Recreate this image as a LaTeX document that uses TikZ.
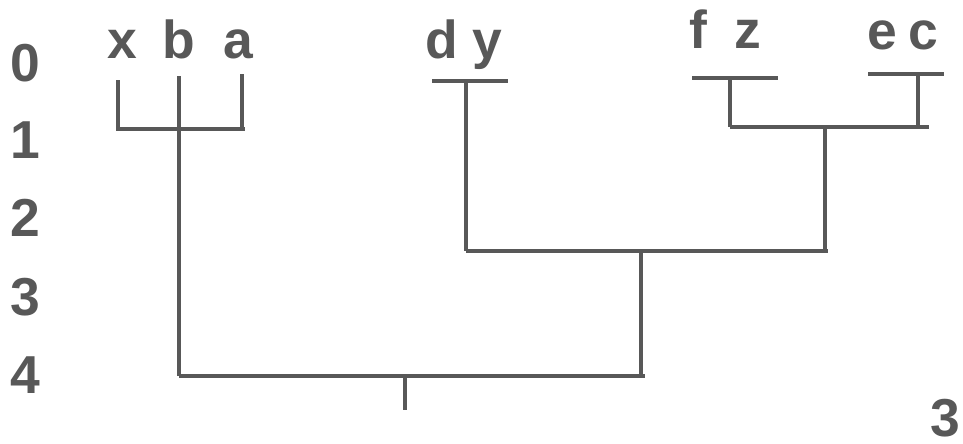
\documentclass[tikz,border=0pt]{standalone}
\usepackage{fontspec}
\setmainfont{Liberation Sans}
\usetikzlibrary{calc}
\definecolor{ink}{HTML}{585858}

\begin{document}
\begin{tikzpicture}[x=0.025cm,y=-0.025cm,
    every node/.style={text=ink,inner sep=0pt,font=\fontsize{38}{42}\selectfont\bfseries},
    branch/.style={draw=ink,line width=2.7pt}]
  \useasboundingbox (0,0) rectangle (963,443);

  %% level numbers down the left side
  \foreach \lvl/\ypos in {0/63,1/140,2/218,3/297,4/375}
  {
    \node (LV\lvl) at (25,\ypos) {\lvl};
  }

  %% leaf labels, grouped as they were merged
  \foreach \leaf/\xpos/\ypos in {x/122/58,b/179/58,a/238/58,d/442/58,y/487/58,f/698/48,z/748/48,e/882/49,c/923/49}
  {
    \node[anchor=base] (LF\leaf) at (\xpos,\ypos) {\leaf};
  }

  %% page number
  \node (PG) at (945,418) {3};

  %% points of the tree
  \coordinate (xTop) at (118,80);
  \coordinate (bTop) at (179,76);
  \coordinate (aTop) at (242,74);
  \coordinate (xbaL) at (118,129);
  \coordinate (xbaR) at (245,129);
  \coordinate (dyL) at (432,81);
  \coordinate (dyR) at (508,81);
  \coordinate (dyM) at (466,81);
  \coordinate (fzL) at (692,78);
  \coordinate (fzR) at (778,78);
  \coordinate (fzM) at (730,78);
  \coordinate (ecL) at (868,74);
  \coordinate (ecR) at (944,74);
  \coordinate (ecM) at (918,74);
  \coordinate (L1L) at (730,127);
  \coordinate (L1R) at (929,127);
  \coordinate (L1M) at (825,127);
  \coordinate (L3L) at (466,251);
  \coordinate (L3R) at (828,251);
  \coordinate (L3M) at (641,251);
  \coordinate (L4L) at (179,376);
  \coordinate (L4R) at (645,376);
  \coordinate (root) at (405,376);
  \coordinate (rootEnd) at (405,410);

  %% level 1: x, b, a joined in one step
  \draw[branch] (xTop) -- (xbaL) -- (xbaR);
  \draw[branch] (aTop) -- (aTop|-xbaL);
  \draw[branch] (bTop) -- (L4L);

  %% level 0 bars for the pairs
  \draw[branch] (dyL) -- (dyR);
  \draw[branch] (fzL) -- (fzR);
  \draw[branch] (ecL) -- (ecR);

  %% level 1: {f,z} with {e,c}
  \draw[branch] (fzM) -- (L1L);
  \draw[branch] (ecM) -- (ecM|-L1L);
  \draw[branch] (L1L) -- (L1R);

  %% level 3: {d,y} with {f,z,e,c}
  \draw[branch] (dyM) -- (L3L);
  \draw[branch] (L1M) -- (L1M|-L3R);
  \draw[branch] (L3L) -- (L3R);

  %% level 4: everything joined
  \draw[branch] (L3M) -- (L3M|-L4R);
  \draw[branch] (L4L) -- (L4R);
  \draw[branch] (root) -- (rootEnd);
\end{tikzpicture}
\end{document}
